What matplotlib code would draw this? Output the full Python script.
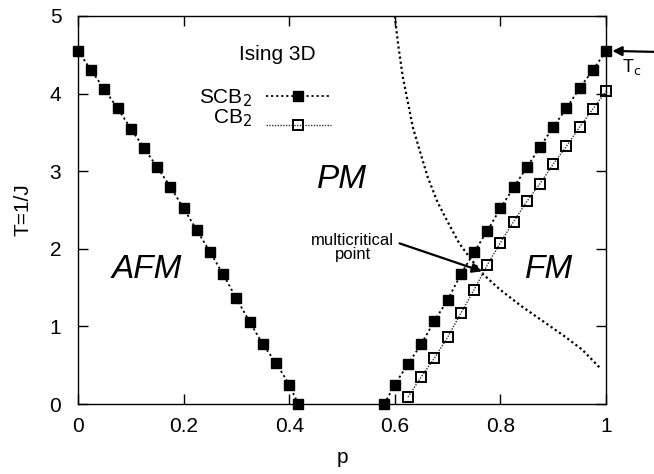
import matplotlib
matplotlib.use("Agg")
import matplotlib.pyplot as plt
from matplotlib.lines import Line2D

plt.rcParams['font.family'] = ['Liberation Sans', 'DejaVu Sans']

# SCB2, left (AFM) branch
p_scb_left = [0.0, 0.025, 0.05, 0.075, 0.1, 0.125, 0.15, 0.175, 0.2, 0.225,
              0.25, 0.275, 0.3, 0.325, 0.35, 0.375, 0.4, 0.417]
T_scb_left = [4.55, 4.30, 4.055, 3.81, 3.55, 3.30, 3.05, 2.80, 2.52, 2.24,
              1.96, 1.67, 1.36, 1.06, 0.77, 0.53, 0.25, 0.0]

# SCB2, right (FM) branch
p_scb_right = [0.58, 0.6, 0.625, 0.65, 0.675, 0.7, 0.725, 0.75, 0.775, 0.8,
               0.825, 0.85, 0.875, 0.9, 0.925, 0.95, 0.975, 1.0]
T_scb_right = [0.0, 0.25, 0.515, 0.77, 1.07, 1.34, 1.67, 1.955, 2.23, 2.52,
               2.79, 3.05, 3.31, 3.57, 3.81, 4.07, 4.30, 4.55]

# CB2 (FM branch)
p_cb = [0.625, 0.65, 0.675, 0.7, 0.725, 0.75, 0.775, 0.8, 0.825, 0.85,
        0.875, 0.9, 0.925, 0.95, 0.975, 1.0]
T_cb = [0.09, 0.35, 0.59, 0.86, 1.17, 1.47, 1.79, 2.08, 2.35, 2.61,
        2.84, 3.09, 3.32, 3.57, 3.80, 4.03]

# dotted curve
p_curve = [0.600, 0.606, 0.615, 0.625, 0.634, 0.647, 0.662, 0.681, 0.700,
           0.722, 0.745, 0.766, 0.800, 0.840, 0.880, 0.920, 0.955, 0.988]
T_curve = [5.0, 4.65, 4.22, 3.88, 3.57, 3.27, 2.93, 2.60, 2.35,
           2.07, 1.86, 1.68, 1.47, 1.26, 1.07, 0.88, 0.70, 0.47]

series_labels = ['SCB$_2$', 'CB$_2$']
xticks = [0, 0.2, 0.4, 0.6, 0.8, 1]
xticklabels = ['0', '0.2', '0.4', '0.6', '0.8', '1']
yticks = [0, 1, 2, 3, 4, 5]

FS = 15

fig = plt.figure(figsize=(6.54, 4.74), dpi=100)
ax = fig.add_axes([78/654, 1-404/474, (606-78)/654, (404-16)/474])

scb_style = dict(color='black', linestyle=(0, (1.2, 1.6)), linewidth=1.3,
                 marker='s', markersize=6.8, markerfacecolor='black',
                 markeredgecolor='black', clip_on=False, zorder=3)
cb_style = dict(color='#333333', linestyle=(0, (1.0, 1.0)), linewidth=1.0,
                marker='s', markersize=6.8, markerfacecolor='none',
                markeredgecolor='black', markeredgewidth=1.4, clip_on=False,
                zorder=3)

ax.plot(p_curve, T_curve, color='black', linestyle=(0, (1.0, 1.3)),
        linewidth=1.6, zorder=2)
ax.plot(p_scb_left, T_scb_left, **scb_style)
ax.plot(p_scb_right, T_scb_right, **scb_style)
ax.plot(p_cb, T_cb, **cb_style)

ax.set_xlim(0, 1)
ax.set_ylim(0, 5)
ax.set_xticks(xticks)
ax.set_xticklabels(xticklabels)
ax.set_yticks(yticks)
ax.tick_params(direction='in', length=7, width=1, labelsize=FS,
               top=True, right=True)
ax.tick_params(axis='x', pad=9)
ax.tick_params(axis='y', pad=12)
for s in ax.spines.values():
    s.set_linewidth(1.0)

ax.set_xlabel('p', fontsize=FS, labelpad=9)
ax.set_ylabel('T=1/J', fontsize=FS, labelpad=12)

# legend: line samples (gnuplot style, text slightly offset from samples)
handles = [Line2D([], [], **{k: v for k, v in scb_style.items() if k != 'clip_on'}),
           Line2D([], [], **{k: v for k, v in cb_style.items() if k != 'clip_on'})]
ax.legend(handles, ['', ''], loc='upper left',
          bbox_to_anchor=((266-78)/528, (404-88)/388), frameon=False,
          fontsize=FS, handlelength=3.1, handletextpad=0,
          borderpad=0, borderaxespad=0, labelspacing=0.5)
ax.text((252-78)/528, (404-98)/388, series_labels[0], transform=ax.transAxes,
        fontsize=FS, ha='right', va='center')
ax.text((252-78)/528, (404-118)/388, series_labels[1], transform=ax.transAxes,
        fontsize=FS, ha='right', va='center')

ax.text(0.378, 4.5, 'Ising 3D', fontsize=FS, ha='center', va='center')

ax.text(0.13, 1.73, 'AFM', fontsize=24, style='italic', ha='center', va='center')
ax.text(0.50, 2.89, 'PM', fontsize=24, style='italic', ha='center', va='center')
ax.text(0.892, 1.73, 'FM', fontsize=24, style='italic', ha='center', va='center')

ax.text(0.52, 2.02, 'multicritical\npoint', fontsize=12, ha='center',
        va='center', linespacing=0.95)
ax.annotate('', xy=(0.765, 1.71), xytext=(0.609, 2.07),
            arrowprops=dict(arrowstyle='-|>', color='black', lw=1.6,
                            mutation_scale=14, shrinkA=0, shrinkB=0))

ax.annotate('', xy=(1.012, 4.55), xytext=(660, 474-52),
            textcoords='figure pixels', annotation_clip=False,
            arrowprops=dict(arrowstyle='-|>', color='black', lw=1.6,
                            mutation_scale=14, shrinkA=0, shrinkB=0))
ax.text(1.03, 4.28, 'T$_\\mathrm{c}$', fontsize=13, ha='left', va='baseline',
        clip_on=False)

fig.savefig('out.png', dpi=100)
